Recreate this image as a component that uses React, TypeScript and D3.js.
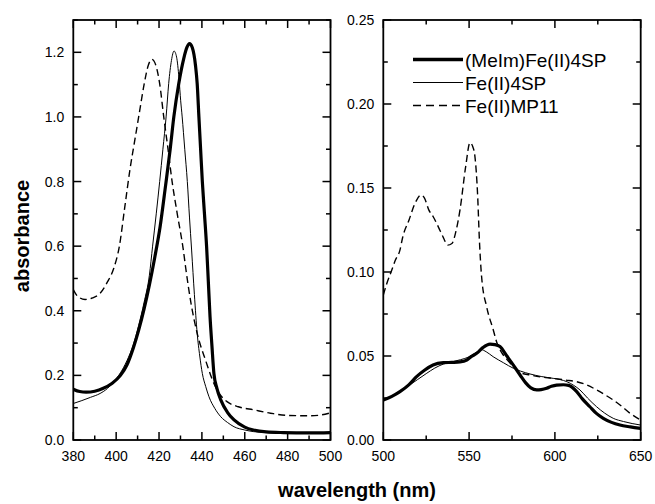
import React from "react";
import * as d3 from "d3";

type Pt = [number, number];

// Left panel (Soret region) series: [wavelength nm, absorbance]
const soretMeImFe4SP: Pt[] = [
  [380, 0.157], [383, 0.15], [386, 0.148], [390, 0.151], [394, 0.16], [398, 0.175],
  [402, 0.2], [405, 0.232], [408, 0.285], [410.5, 0.34], [413, 0.405], [415.5, 0.48],
  [418, 0.565], [420.5, 0.66], [423, 0.785], [425.2, 0.9], [426.9, 1.0], [429.2, 1.103],
  [431.5, 1.18], [433, 1.215], [434.2, 1.227], [435.5, 1.215], [437, 1.16], [437.8, 1.103],
  [438.6, 1.0], [439.4, 0.9], [440.2, 0.8], [441.2, 0.7], [442.2, 0.598], [443, 0.49],
  [443.8, 0.381], [444.7, 0.29], [445.6, 0.206], [447, 0.16], [448.8, 0.124], [452, 0.085],
  [455, 0.062], [460, 0.04], [464, 0.031], [470, 0.025], [478, 0.023], [490, 0.022], [500, 0.023],
];

const soretFe4SP: Pt[] = [
  [380, 0.113], [384, 0.122], [388, 0.132], [392.5, 0.144], [396, 0.16], [398.8, 0.18],
  [402, 0.208], [405, 0.245], [408, 0.295], [410.5, 0.355], [413, 0.425], [415.5, 0.51],
  [417, 0.6], [418.7, 0.7], [420.3, 0.8], [421.8, 0.9], [423.3, 1.0], [424.5, 1.103],
  [425.8, 1.175], [427, 1.204], [428.2, 1.185], [429.3, 1.12], [430.1, 1.05], [430.8, 1.0],
  [432, 0.9], [433.2, 0.8], [434.2, 0.69], [435.2, 0.588], [436.5, 0.45], [437.8, 0.33],
  [439, 0.26], [440.2, 0.206], [441.8, 0.165], [443.3, 0.134], [446, 0.098], [448.8, 0.072],
  [452, 0.054], [455, 0.041], [460, 0.031], [464, 0.026], [470, 0.023], [478, 0.021], [500, 0.021],
];

const soretFeMP11: Pt[] = [
  [380, 0.466], [382, 0.445], [385.5, 0.435], [389, 0.44], [392.5, 0.454], [396, 0.49],
  [398.8, 0.53], [401.5, 0.6], [404, 0.72], [406.5, 0.84], [409, 0.94], [411, 1.02],
  [413.1, 1.103], [415, 1.16], [416.7, 1.178], [418.5, 1.16], [420.3, 1.103], [422.2, 1.0],
  [424, 0.91], [426.1, 0.8], [428.5, 0.7], [431.3, 0.59], [432.5, 0.53], [435, 0.42],
  [437.8, 0.33], [441.7, 0.247], [445.6, 0.175], [448.5, 0.14], [451.9, 0.118], [457, 0.103],
  [464.4, 0.093], [472, 0.083], [480, 0.076], [491, 0.075], [496, 0.078], [500, 0.084],
];

// Right panel (Q-band region) series
const qMeImFe4SP: Pt[] = [
  [500, 0.0238], [505, 0.026], [509.7, 0.0288], [515, 0.033], [519.4, 0.0377], [524, 0.0415],
  [529, 0.0446], [535, 0.046], [540, 0.0462], [544.7, 0.0465], [548.6, 0.0476], [551, 0.0495],
  [554.4, 0.0516], [558, 0.055], [562.2, 0.0571], [565, 0.0568], [568, 0.0556], [572, 0.05],
  [575.8, 0.0446], [579.7, 0.0387], [583, 0.034], [586, 0.031], [589.4, 0.0298], [592, 0.03],
  [595.2, 0.0308], [598, 0.032], [601, 0.0327], [605, 0.0329], [608, 0.0325], [612.7, 0.0288],
  [616, 0.0245], [620.4, 0.0198], [624, 0.016], [628.2, 0.0129], [633, 0.0105], [637.9, 0.0089],
  [644, 0.0078], [650, 0.0069],
];

const qFe4SP: Pt[] = [
  [500, 0.0238], [505, 0.026], [510, 0.029], [515, 0.0325], [520, 0.036], [525, 0.0395],
  [530, 0.0428], [535, 0.0452], [540, 0.0465], [545, 0.0478], [550, 0.0495], [554, 0.052],
  [557, 0.0538], [560, 0.0525], [564, 0.0496], [570, 0.046], [575.8, 0.0427], [580, 0.041],
  [585.5, 0.0393], [592, 0.0378], [599, 0.0367], [603, 0.036], [607, 0.0347], [611, 0.0325],
  [614.6, 0.0298], [619, 0.025], [624.3, 0.0198], [629, 0.016], [634, 0.0129], [640, 0.011],
  [645, 0.0098], [650, 0.0089],
];

const qFeMP11: Pt[] = [
  [500, 0.0863], [502, 0.093], [504.9, 0.101], [507, 0.107], [509.7, 0.113], [511.3, 0.1207],
  [515, 0.131], [518.5, 0.1409], [522, 0.1458], [524, 0.144], [526.5, 0.137], [529.1, 0.1329],
  [532, 0.127], [535, 0.1205], [537.5, 0.116], [540, 0.117], [542.5, 0.125], [544.7, 0.137],
  [548, 0.1627], [550.5, 0.177], [552, 0.175], [553.4, 0.1687], [555, 0.145], [556, 0.119],
  [557.3, 0.097], [560.3, 0.079], [564.1, 0.0655], [566, 0.0585], [569, 0.052], [572, 0.048],
  [576, 0.0435], [580, 0.04], [585.5, 0.0387], [592, 0.0375], [599, 0.0367], [606, 0.0357],
  [612.7, 0.0347], [618, 0.033], [624.3, 0.0298], [629, 0.027], [634, 0.0238], [639, 0.02],
  [643.8, 0.0159], [650, 0.0119],
];

const seriesNames = ["(MeIm)Fe(II)4SP", "Fe(II)4SP", "Fe(II)MP11"];

const leftXTicks = [380, 400, 420, 440, 460, 480, 500];
const leftYTicks = [0.0, 0.2, 0.4, 0.6, 0.8, 1.0, 1.2];
const rightXTicks = [500, 550, 600, 650];
const rightYTicks = [0.0, 0.05, 0.1, 0.15, 0.2, 0.25];

const styles = [
  { width: 3.2, dash: "" },
  { width: 1, dash: "" },
  { width: 1.4, dash: "7,4" },
];

const TOP = 20;
const BOTTOM = 440;
const FONT = "'Liberation Sans', Arial, Helvetica, sans-serif";

type PanelProps = {
  x0: number;
  x1: number;
  xDomain: [number, number];
  yDomain: [number, number];
  xTicks: number[];
  xMinorStep: number;
  yTicks: number[];
  yMinorStep: number;
  yFmt: (v: number) => string;
  series: Pt[][];
};

function Panel(p: PanelProps) {
  const x = d3.scaleLinear().domain(p.xDomain).range([p.x0, p.x1]);
  const y = d3.scaleLinear().domain(p.yDomain).range([BOTTOM, TOP]);
  const xMinor = d3.range(p.xDomain[0], p.xDomain[1] + 1e-9, p.xMinorStep);
  const yMinor = d3.range(p.yDomain[0], p.yDomain[1] + 1e-9, p.yMinorStep);
  const isMajorX = (v: number) => p.xTicks.some((t) => Math.abs(t - v) < 1e-6);
  const isMajorY = (v: number) => p.yTicks.some((t) => Math.abs(t - v) < 1e-6);
  const line = d3
    .line<Pt>()
    .x((d) => x(d[0]))
    .y((d) => y(d[1]))
    .curve(d3.curveMonotoneX);
  const clipId = `clip-${Math.round(p.x0)}`;
  return (
    <g>
      <defs>
        <clipPath id={clipId}>
          <rect x={p.x0} y={TOP} width={p.x1 - p.x0} height={BOTTOM - TOP} />
        </clipPath>
      </defs>
      <g clipPath={`url(#${clipId})`}>
        {p.series.map((s, i) => (
          <path
            key={i}
            d={line(s) || ""}
            fill="none"
            stroke="#000"
            strokeWidth={styles[i].width}
            strokeDasharray={styles[i].dash}
            strokeLinejoin="round"
          />
        ))}
      </g>
      {xMinor.map((v, i) => {
        const len = isMajorX(v) ? 8 : 4.5;
        const xx = x(v);
        return (
          <g key={"xt" + i} stroke="#000" strokeWidth={1.5}>
            <line x1={xx} x2={xx} y1={BOTTOM} y2={BOTTOM - len} />
            <line x1={xx} x2={xx} y1={TOP} y2={TOP + len} />
          </g>
        );
      })}
      {yMinor.map((v, i) => {
        const len = isMajorY(v) ? 8 : 4.5;
        const yy = y(v);
        return (
          <g key={"yt" + i} stroke="#000" strokeWidth={1.5}>
            <line x1={p.x0} x2={p.x0 + len} y1={yy} y2={yy} />
            <line x1={p.x1} x2={p.x1 - len} y1={yy} y2={yy} />
          </g>
        );
      })}
      <rect
        x={p.x0}
        y={TOP}
        width={p.x1 - p.x0}
        height={BOTTOM - TOP}
        fill="none"
        stroke="#000"
        strokeWidth={1.8}
      />
      {p.xTicks.map((v) => (
        <text
          key={"xl" + v}
          x={x(v)}
          y={BOTTOM + 21}
          textAnchor="middle"
          fontSize={14}
          fontFamily={FONT}
        >
          {v}
        </text>
      ))}
      {p.yTicks.map((v) => (
        <text
          key={"yl" + v}
          x={p.x0 - 9}
          y={y(v) + 5}
          textAnchor="end"
          fontSize={14}
          fontFamily={FONT}
        >
          {p.yFmt(v)}
        </text>
      ))}
    </g>
  );
}

export default function App() {
  const legendX0 = 413;
  const legendX1 = 463;
  const legendY = [59.5, 82.5, 105.5];
  return (
    <svg width={655} height={504} style={{ position: "absolute", left: 0, top: 0 }}>
      <rect width={655} height={504} fill="#fff" />
      <Panel
        x0={73.3}
        x1={330.5}
        xDomain={[380, 500]}
        yDomain={[0, 1.3]}
        xTicks={leftXTicks}
        xMinorStep={10}
        yTicks={leftYTicks}
        yMinorStep={0.1}
        yFmt={d3.format(".1f")}
        series={[soretMeImFe4SP, soretFe4SP, soretFeMP11]}
      />
      <Panel
        x0={383.3}
        x1={640.7}
        xDomain={[500, 650]}
        yDomain={[0, 0.25]}
        xTicks={rightXTicks}
        xMinorStep={25}
        yTicks={rightYTicks}
        yMinorStep={0.025}
        yFmt={d3.format(".2f")}
        series={[qMeImFe4SP, qFe4SP, qFeMP11]}
      />
      {seriesNames.map((name, i) => (
        <g key={name}>
          <line
            x1={legendX0}
            x2={legendX1}
            y1={legendY[i]}
            y2={legendY[i]}
            stroke="#000"
            strokeWidth={i === 0 ? 3.6 : styles[i].width}
            strokeDasharray={i === 2 ? "8,5" : ""}
          />
          <text x={legendX1 + 2} y={legendY[i] + 7} fontSize={19} fontFamily={FONT}>
            {name}
          </text>
        </g>
      ))}
      <text
        x={357}
        y={497}
        textAnchor="middle"
        fontSize={20}
        fontWeight="bold"
        fontFamily={FONT}
      >
        wavelength (nm)
      </text>
      <text
        transform="translate(29,236) rotate(-90)"
        textAnchor="middle"
        fontSize={20}
        fontWeight="bold"
        fontFamily={FONT}
      >
        absorbance
      </text>
    </svg>
  );
}
